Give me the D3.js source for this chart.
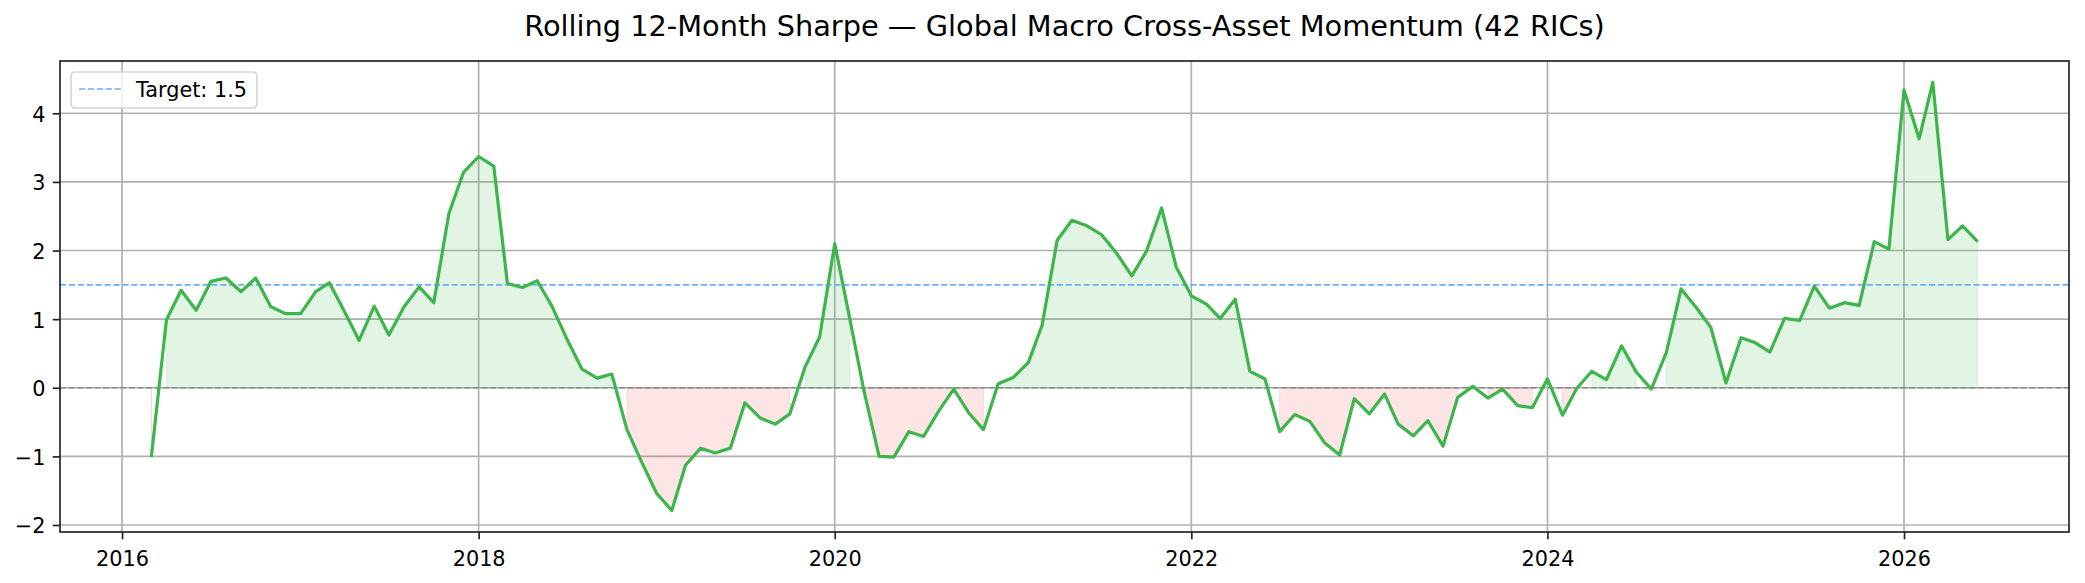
<!DOCTYPE html>
<html>
<head>
<meta charset="utf-8">
<script src="https://cdn.jsdelivr.net/npm/d3@7"></script>
<style>
  body { margin: 0; background: #fff; }
  svg { display: block; font-family: "DejaVu Sans", sans-serif; }
</style>
</head>
<body>
<div id="chart"></div>
<script>
// Monthly observations, first and last month of the series
const firstMonth = '2016-03-01';
const lastMonth = '2026-06-01';

// Rolling 12-month Sharpe, one value per month
const sharpe2016 = [-1.01, 0.99, 1.42, 1.13, 1.55, 1.60, 1.40, 1.60, 1.18, 1.08];
const sharpe2017 = [1.08, 1.40, 1.53, 1.11, 0.69, 1.19, 0.77, 1.18, 1.47, 1.24, 2.54, 3.14];
const sharpe2018 = [3.37, 3.23, 1.52, 1.46, 1.56, 1.18, 0.71, 0.27, 0.14, 0.20, -0.61, -1.08];
const sharpe2019 = [-1.54, -1.79, -1.13, -0.88, -0.95, -0.88, -0.22, -0.44, -0.53, -0.38, 0.30, 0.74];
const sharpe2020 = [2.10, 1.00, -0.05, -1.00, -1.01, -0.64, -0.71, -0.34, -0.02, -0.36, -0.61, 0.06];
const sharpe2021 = [0.15, 0.37, 0.91, 2.15, 2.44, 2.36, 2.23, 1.96, 1.63, 1.99, 2.62, 1.76];
const sharpe2022 = [1.34, 1.22, 1.01, 1.29, 0.24, 0.13, -0.64, -0.39, -0.49, -0.80, -0.98, -0.16];
const sharpe2023 = [-0.38, -0.09, -0.53, -0.70, -0.48, -0.85, -0.14, 0.02, -0.15, -0.02, -0.26, -0.29];
const sharpe2024 = [0.13, -0.40, -0.01, 0.24, 0.12, 0.61, 0.23, -0.02, 0.52, 1.44, 1.17, 0.88];
const sharpe2025 = [0.07, 0.73, 0.66, 0.52, 1.01, 0.98, 1.48, 1.16, 1.24, 1.20, 2.13, 2.02];
const sharpe2026 = [4.34, 3.63, 4.45, 2.16, 2.36, 2.13];

const targetSharpe = 1.5;
const yTicks = [-2, -1, 0, 1, 2, 3, 4];
const xTickYears = [2016, 2018, 2020, 2022, 2024, 2026];
const chartTitle = 'Rolling 12-Month Sharpe \u2014 Global Macro Cross-Asset Momentum (42 RICs)';

// Layout
const W = 2085, H = 583;
const plot = { left: 60, right: 2069, top: 61, bottom: 532 };
const fontSize = 20.8;
const titleSize = 28.8;
const lw = 1.67;
const lineColor = '#3cb54b';
const targetColor = '#6aaefc';

const months = d3.utcMonth.range(new Date(firstMonth), d3.utcMonth.offset(new Date(lastMonth), 1));
const values = [].concat(sharpe2016, sharpe2017, sharpe2018, sharpe2019, sharpe2020,
    sharpe2021, sharpe2022, sharpe2023, sharpe2024, sharpe2025, sharpe2026);
const data = months.map((d, i) => ({ date: d, v: values[i] }));

const svg = d3.select('#chart').append('svg')
    .attr('width', W)
    .attr('height', H);

// Scales with matplotlib-like 5% margins
const xExt = d3.extent(months, d => +d);
const xPad = (xExt[1] - xExt[0]) * 0.05;
const x = d3.scaleUtc()
    .domain([new Date(xExt[0] - xPad), new Date(xExt[1] + xPad)])
    .range([plot.left, plot.right]);

const yExt = d3.extent(values);
const yPad = (yExt[1] - yExt[0]) * 0.05;
const y = d3.scaleLinear()
    .domain([yExt[0] - yPad, yExt[1] + yPad])
    .range([plot.bottom, plot.top]);

const xTicks = xTickYears.map(yr => new Date(Date.UTC(yr, 0, 1)));

// Clip for plot area
svg.append('clipPath').attr('id', 'clip')
    .append('rect')
    .attr('x', plot.left).attr('y', plot.top)
    .attr('width', plot.right - plot.left).attr('height', plot.bottom - plot.top);

// Grid lines
const grid = svg.append('g').attr('class', 'grid');
grid.selectAll('line.gy')
    .data(yTicks)
    .enter().append('line')
    .attr('class', 'gy')
    .attr('x1', plot.left).attr('x2', plot.right)
    .attr('y1', d => y(d)).attr('y2', d => y(d))
    .attr('stroke', '#b0b0b0').attr('stroke-width', lw);
grid.selectAll('line.gx')
    .data(xTicks)
    .enter().append('line')
    .attr('class', 'gx')
    .attr('x1', d => x(d)).attr('x2', d => x(d))
    .attr('y1', plot.top).attr('y2', plot.bottom)
    .attr('stroke', '#b0b0b0').attr('stroke-width', lw);

const body = svg.append('g').attr('clip-path', 'url(#clip)');

// Positive / negative shading (no interpolation between runs, like fill_between where=)
const areaPos = d3.area()
    .defined(d => d.v >= 0)
    .x(d => x(d.date))
    .y0(y(0))
    .y1(d => y(d.v));
const areaNeg = d3.area()
    .defined(d => d.v < 0)
    .x(d => x(d.date))
    .y0(y(0))
    .y1(d => y(d.v));

body.append('path')
    .datum(data)
    .attr('d', areaPos)
    .attr('fill', lineColor)
    .attr('fill-opacity', 0.15)
    .attr('stroke', lineColor)
    .attr('stroke-opacity', 0.15)
    .attr('stroke-width', 1);
body.append('path')
    .datum(data)
    .attr('d', areaNeg)
    .attr('fill', '#ef5350')
    .attr('fill-opacity', 0.15)
    .attr('stroke', '#ef5350')
    .attr('stroke-opacity', 0.15)
    .attr('stroke-width', 1);

// Zero line
body.append('line')
    .attr('x1', plot.left).attr('x2', plot.right)
    .attr('y1', y(0)).attr('y2', y(0))
    .attr('stroke', '#8a8a8a')
    .attr('stroke-width', lw)
    .attr('stroke-dasharray', '6,2.6');

// Target line
body.append('line')
    .attr('x1', plot.left).attr('x2', plot.right)
    .attr('y1', y(targetSharpe)).attr('y2', y(targetSharpe))
    .attr('stroke', targetColor)
    .attr('stroke-width', lw)
    .attr('stroke-dasharray', '6.2,2.7');

// Sharpe line
const line = d3.line()
    .x(d => x(d.date))
    .y(d => y(d.v));
body.append('path')
    .datum(data)
    .attr('d', line)
    .attr('fill', 'none')
    .attr('stroke', lineColor)
    .attr('stroke-width', 3.2)
    .attr('stroke-linejoin', 'round');

// Axes frame
svg.append('rect')
    .attr('x', plot.left).attr('y', plot.top)
    .attr('width', plot.right - plot.left).attr('height', plot.bottom - plot.top)
    .attr('fill', 'none')
    .attr('stroke', '#222')
    .attr('stroke-width', lw);

// X axis
const xAxis = svg.append('g')
    .attr('transform', `translate(0,${plot.bottom})`)
    .call(d3.axisBottom(x)
        .tickValues(xTicks)
        .tickFormat(d3.utcFormat('%Y'))
        .tickSize(7.3)
        .tickPadding(7.3));
xAxis.select('.domain').remove();
xAxis.selectAll('line').attr('stroke', '#222').attr('stroke-width', lw);
xAxis.selectAll('text')
    .style('font-size', fontSize + 'px')
    .style('font-family', '"DejaVu Sans", sans-serif')
    .attr('dy', '0.92em')
    .attr('fill', '#000');

// Y axis
const yAxis = svg.append('g')
    .attr('transform', `translate(${plot.left},0)`)
    .call(d3.axisLeft(y)
        .tickValues(yTicks)
        .tickFormat(d => d < 0 ? '\u2212' + Math.abs(d) : String(d))
        .tickSize(7.3)
        .tickPadding(7.3));
yAxis.select('.domain').remove();
yAxis.selectAll('line').attr('stroke', '#222').attr('stroke-width', lw);
yAxis.selectAll('text')
    .style('font-size', fontSize + 'px')
    .style('font-family', '"DejaVu Sans", sans-serif')
    .attr('dy', '0.38em')
    .attr('fill', '#000');

// Title
svg.append('text')
    .attr('x', (plot.left + plot.right) / 2)
    .attr('y', 35.5)
    .attr('text-anchor', 'middle')
    .style('font-size', titleSize + 'px')
    .attr('fill', '#000')
    .text(chartTitle);

// Legend
const legend = svg.append('g').attr('class', 'legend');
legend.append('rect')
    .attr('x', 71).attr('y', 72)
    .attr('width', 186).attr('height', 36)
    .attr('rx', 4)
    .attr('fill', '#fff').attr('fill-opacity', 0.8)
    .attr('stroke', '#d6d6d6').attr('stroke-width', lw);
legend.append('line')
    .attr('x1', 79).attr('x2', 121)
    .attr('y1', 89).attr('y2', 89)
    .attr('stroke', targetColor)
    .attr('stroke-width', lw)
    .attr('stroke-dasharray', '6.2,2.7');
legend.append('text')
    .attr('x', 136).attr('y', 97.3)
    .style('font-size', fontSize + 'px')
    .attr('fill', '#000')
    .text('Target: ' + targetSharpe);
</script>
</body>
</html>
